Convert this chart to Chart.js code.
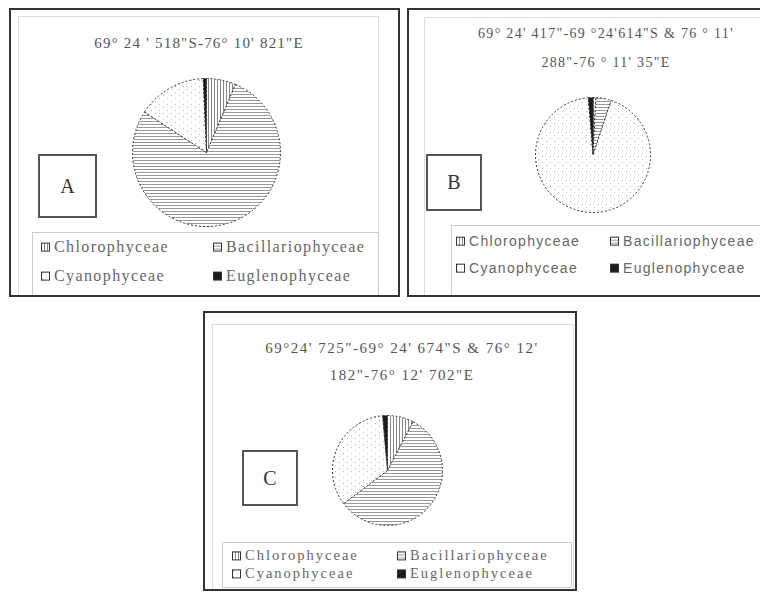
<!DOCTYPE html>
<html>
<head>
<meta charset="utf-8">
<script src="https://cdn.jsdelivr.net/npm/chart.js@4.4.1/dist/chart.umd.min.js"></script>
<style>
  body { margin: 0; width: 760px; height: 594px; background: #fff; position: relative; overflow: hidden; }
  .abs { position: absolute; }
  .frame { position: absolute; border: 2px solid #333; box-sizing: border-box; }
  .inner { position: absolute; border: 1px solid #ddd; border-bottom: none; box-sizing: border-box; }
  .lbox { position: absolute; border: 1px solid #ccc; box-sizing: border-box; background: #fff; }
  .tag { position: absolute; border: 2px solid #555; box-sizing: border-box; background: #fff;
         font-family: "Liberation Serif", serif; font-size: 20px; color: #333;
         display: flex; align-items: center; justify-content: center; }
  .title { position: absolute; text-align: center; white-space: nowrap; color: #555;
           font-family: "Liberation Serif", serif; transform: translate(-50%, -50%); }
  .item { position: absolute; white-space: nowrap; transform: translateY(-50%); color: #666; line-height: 1.05; }
  .item canvas { vertical-align: middle; margin-right: 4px; position: relative; top: -1px; }
</style>
</head>
<body>

<!-- inner chart-area borders and legend boxes -->
<div class="inner" style="left:18px; top:16px; width:361px; height:280px;"></div>
<div class="inner" style="left:424px; top:17px; width:340px; height:279px;"></div>
<div class="inner" style="left:212px; top:324px; width:362px; height:266px;"></div>

<div class="lbox" style="left:32px; top:232px; width:347px; height:64px; border-bottom:none;"></div>
<div class="lbox" style="left:451px; top:225px; width:310px; height:71px; border-bottom:none;"></div>
<div class="lbox" style="left:222px; top:542px; width:350px; height:46px;"></div>

<canvas id="pieA" class="abs" width="153" height="153" style="left:130px; top:76px;"></canvas>
<canvas id="pieB" class="abs" width="120" height="120" style="left:533px; top:95px;"></canvas>
<canvas id="pieC" class="abs" width="115" height="115" style="left:330px; top:413px;"></canvas>

<div class="tag" style="left:38px; top:154px; width:59px; height:64px;">A</div>
<div class="tag" style="left:426px; top:154px; width:56px; height:57px;">B</div>
<div class="tag" style="left:242px; top:450px; width:56px; height:56px;">C</div>

<div id="texts"></div>

<div class="frame" style="left:9px; top:8px; width:391px; height:289px;"></div>
<div class="frame" style="left:407px; top:8px; width:360px; height:289px;"></div>
<div class="frame" style="left:203px; top:311px; width:374px; height:280px;"></div>

<script>
// categories and percentage shares
const categories = ['Chlorophyceae', 'Bacillariophyceae', 'Cyanophyceae', 'Euglenophyceae'];
const siteA = [6.4, 77.8, 15.1, 0.7];
const siteB = [0.8, 4.3, 93.6, 1.3];
const siteC = [7.7, 57.0, 33.9, 1.4];

const titleA = ['69° 24 \' 518"S-76° 10\' 821"E'];
const titleB = ['69° 24\' 417"-69 °24\'614"S & 76 ° 11\'', '288"-76 ° 11\' 35"E'];
const titleC = ['69°24\' 725"-69° 24\' 674"S & 76° 12\'', '182"-76° 12\' 702"E'];

// fill patterns (Excel style black & white)
function makePattern(kind) {
    const c = document.createElement('canvas');
    const g = c.getContext('2d');
    if (kind === 'v') {
        c.width = 3; c.height = 3;
        g.fillStyle = '#fff'; g.fillRect(0, 0, 3, 3);
        g.fillStyle = '#888'; g.fillRect(0, 0, 1, 3);
    } else if (kind === 'h') {
        c.width = 3; c.height = 3;
        g.fillStyle = '#fff'; g.fillRect(0, 0, 3, 3);
        g.fillStyle = '#999'; g.fillRect(0, 0, 3, 1);
    } else if (kind === 'd') {
        c.width = 8; c.height = 6;
        g.fillStyle = '#fff'; g.fillRect(0, 0, 8, 6);
        g.fillStyle = '#b4b4b4'; g.fillRect(1, 1, 1, 1); g.fillRect(5, 4, 1, 1);
    } else {
        c.width = 2; c.height = 2;
        g.fillStyle = '#1c1c1c'; g.fillRect(0, 0, 2, 2);
    }
    return g.createPattern(c, 'repeat');
}

const fills = [makePattern('v'), makePattern('h'), makePattern('d'), makePattern('s')];

function drawPie(id, values) {
    const ctx = document.getElementById(id).getContext('2d');
    return new Chart(ctx, {
        type: 'pie',
        data: {
            labels: categories,
            datasets: [{
                data: values,
                backgroundColor: fills,
                borderColor: '#333',
                borderWidth: 1,
                borderDash: [2, 2]
            }]
        },
        options: {
            responsive: false,
            animation: false,
            layout: { padding: 2 },
            plugins: {
                legend: { display: false },
                tooltip: { enabled: false },
                title: { display: false }
            }
        }
    });
}

drawPie('pieA', siteA);
drawPie('pieB', siteB);
drawPie('pieC', siteC);

// titles and legends as html text
const texts = document.getElementById('texts');

function addTitle(lines, cx, ys, size, spacing) {
    lines.forEach((line, i) => {
        const d = document.createElement('div');
        d.className = 'title';
        d.style.left = cx + 'px';
        d.style.top = ys[i] + 'px';
        d.style.fontSize = size + 'px';
        d.style.letterSpacing = spacing + 'px';
        d.textContent = line;
        texts.appendChild(d);
    });
}

function addLegend(cols, rows, font, size, spacing) {
    categories.forEach((name, i) => {
        const d = document.createElement('div');
        d.className = 'item';
        d.style.left = cols[i % 2] + 'px';
        d.style.top = rows[Math.floor(i / 2)] + 'px';
        d.style.fontFamily = font;
        d.style.fontSize = size + 'px';
        d.style.letterSpacing = spacing + 'px';
        const sw = document.createElement('canvas');
        sw.width = 9; sw.height = 9;
        const g = sw.getContext('2d');
        g.fillStyle = fills[i];
        g.fillRect(0, 0, 9, 9);
        g.strokeStyle = '#333';
        g.strokeRect(0.5, 0.5, 8, 8);
        d.appendChild(sw);
        d.appendChild(document.createTextNode(name));
        texts.appendChild(d);
    });
}

addTitle(titleA, 199, [43], 15, 1.2);
addTitle(titleB, 606, [34, 63], 14, 1.3);
addTitle(titleC, 402, [348, 375], 15, 1.5);

addLegend([41, 213], [247, 276], '"Liberation Serif", serif', 16, 1.4);
addLegend([456, 610], [241, 268], '"Liberation Sans", sans-serif', 14, 1.3);
addLegend([232, 397], [556, 574], '"Liberation Serif", serif', 14.5, 2);
</script>
</body>
</html>
